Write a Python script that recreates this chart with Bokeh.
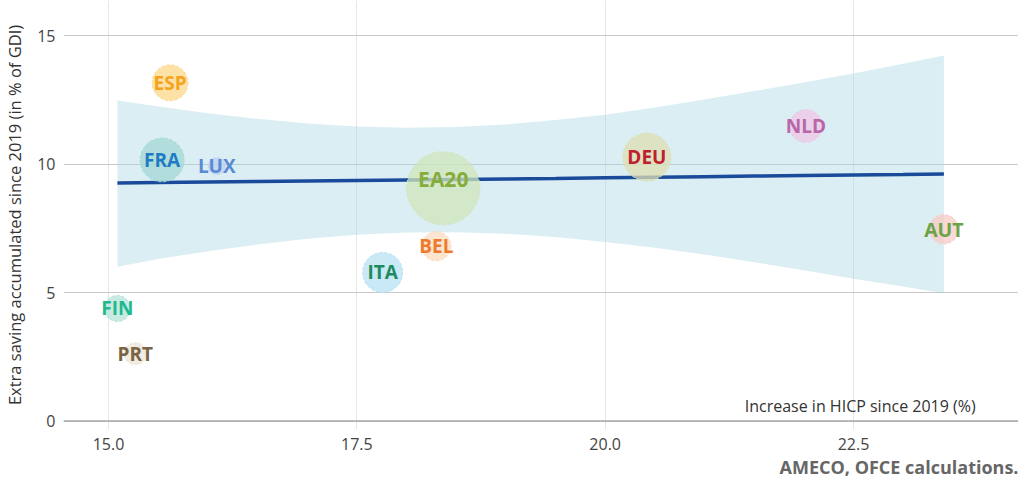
from bokeh.plotting import figure
from bokeh.models import ColumnDataSource, FixedTicker, PrintfTickFormatter, Span, Label, Title
from bokeh.core.properties import value
from bokeh.embed import file_html
from bokeh.resources import INLINE
import numpy as np

# ---- data ----
countries = ["EA20", "DEU", "FRA", "ITA", "ESP", "NLD", "BEL", "AUT", "FIN", "PRT", "LUX"]
hicp_increase = [18.37, 20.42, 15.54, 17.76, 15.62, 22.02, 18.30, 23.41, 15.09, 15.27, 16.09]
extra_saving = [9.06, 10.27, 10.16, 5.78, 13.16, 11.48, 6.80, 7.46, 4.38, 2.62, 9.92]
weight = [100, 43, 36, 30, 24, 20, 16, 16, 12.7, 9, 5.4]

# regression line and confidence band
fit_x = [15.09, 15.5, 16.0, 16.5, 17.0, 17.5, 18.0, 18.5, 19.0, 19.5, 20.0, 20.5, 21.0, 21.5, 22.0, 22.5, 23.0, 23.41]
fit_y = [9.26, 9.28, 9.30, 9.32, 9.34, 9.36, 9.38, 9.40, 9.42, 9.44, 9.47, 9.49, 9.51, 9.53, 9.55, 9.57, 9.59, 9.61]
band_upper = [12.47, 12.24, 11.98, 11.76, 11.58, 11.46, 11.41, 11.44, 11.54, 11.71, 11.92, 12.20, 12.51, 12.84, 13.17, 13.52, 13.90, 14.22]
band_lower = [6.00, 6.30, 6.61, 6.87, 7.09, 7.25, 7.34, 7.35, 7.29, 7.16, 6.97, 6.74, 6.48, 6.18, 5.87, 5.54, 5.23, 4.97]

x_ticks = [15.0, 17.5, 20.0, 22.5]
y_ticks = [0, 5, 10, 15]

# ---- styles ----
fill_colors = ["#cfe6b9", "#dedfb2", "#a3d8d6", "#b6e1f2", "#fdd78a", "#efc6e6",
               "#f9dcc0", "#f8cbc6", "#b4e4d8", "#ece5d8", "#bcd0f2"]
text_colors = ["#86ad3b", "#c0202c", "#1e7bc4", "#1d8a60", "#f5a41e", "#b866a8",
               "#ee7a2e", "#6aa446", "#22b88e", "#7a6444", "#5a8ad4"]
label_dy = [-9, 0, 0, 0, 0, 0, 0, 0, 0, 0, 0]
label_size = ["21px", "19px", "19px", "19px", "19px", "19px", "19px", "19.5px", "19px", "19px", "19px"]

diam = [7.3 * np.sqrt(w) for w in weight]

src = ColumnDataSource(dict(x=hicp_increase, y=extra_saving, name=countries, d=diam,
                            fc=fill_colors, tc=text_colors, dy=label_dy, fs=label_size))
band_src = ColumnDataSource(dict(x=fit_x, y=fit_y, up=band_upper, lo=band_lower))

X0, X1 = 14.547, 24.161
Y0, Y1 = -0.33, 16.364

p = figure(width=1018, height=478, output_backend="svg", toolbar_location=None,
           x_range=(X0, X1), y_range=(Y0, Y1),
           min_border_left=63, min_border_right=0, min_border_top=0, min_border_bottom=43)
p.outline_line_color = None
p.background_fill_color = "white"

# band + line
p.varea(x="x", y1="lo", y2="up", source=band_src, fill_color="#a2d4e1", fill_alpha=0.4)
p.line("x", "y", source=band_src, line_color="#1a4a9a", line_width=3.5)

# zero line
p.add_layout(Span(location=0, dimension="width", line_color="#a8a8a8", line_width=1.5))

# bubbles
p.scatter("x", "y", source=src, size="d", fill_color="fc", fill_alpha=0.75,
          line_color="fc", line_alpha=1.0, line_width=1, line_dash="3 2")

# labels
p.text("x", "y", text="name", source=src, text_color="tc", text_align="center",
       text_baseline="middle", y_offset="dy", text_font=value("Open Sans"),
       text_font_style="bold", text_font_size="fs")

# x-axis title inside plot
p.add_layout(Label(x=23.73, y=0, y_offset=4, text="Increase in HICP since 2019 (%)",
                   text_align="right", text_baseline="bottom", text_font="Open Sans",
                   text_font_size="16px", text_color="#333333"))

# axes
p.xaxis.ticker = FixedTicker(ticks=x_ticks)
p.xaxis.formatter = PrintfTickFormatter(format="%.1f")
p.yaxis.ticker = FixedTicker(ticks=y_ticks)
for ax in (p.xaxis, p.yaxis):
    ax.axis_line_color = None
    ax.major_tick_line_color = None
    ax.minor_tick_line_color = None
    ax.major_tick_out = 0
    ax.major_tick_in = 0
    ax.minor_tick_out = 0
    ax.minor_tick_in = 0
    ax.major_label_text_font = "Open Sans"
    ax.major_label_text_font_size = "16px"
    ax.major_label_text_color = "#444444"
p.xaxis.major_label_standoff = 8
p.yaxis.major_label_standoff = 8
p.yaxis.axis_label = "Extra saving accumulated since 2019 (in % of GDI)"
p.yaxis.axis_label_text_font = "Open Sans"
p.yaxis.axis_label_text_font_size = "16.5px"
p.yaxis.axis_label_text_font_style = "normal"
p.yaxis.axis_label_text_color = "#333333"
p.yaxis.axis_label_standoff = 8

p.xgrid.ticker = FixedTicker(ticks=x_ticks)
p.ygrid.ticker = FixedTicker(ticks=y_ticks)
p.xgrid.grid_line_color = "#e6e6e6"
p.ygrid.grid_line_color = "#c8c8c8"

# source note below the axis
p.add_layout(Title(text="AMECO, OFCE calculations.", align="right",
                   text_font="Open Sans", text_font_size="18px", text_font_style="bold",
                   text_color="#666666", standoff=0), "below")

open("out.html", "w").write(file_html(p, INLINE))
